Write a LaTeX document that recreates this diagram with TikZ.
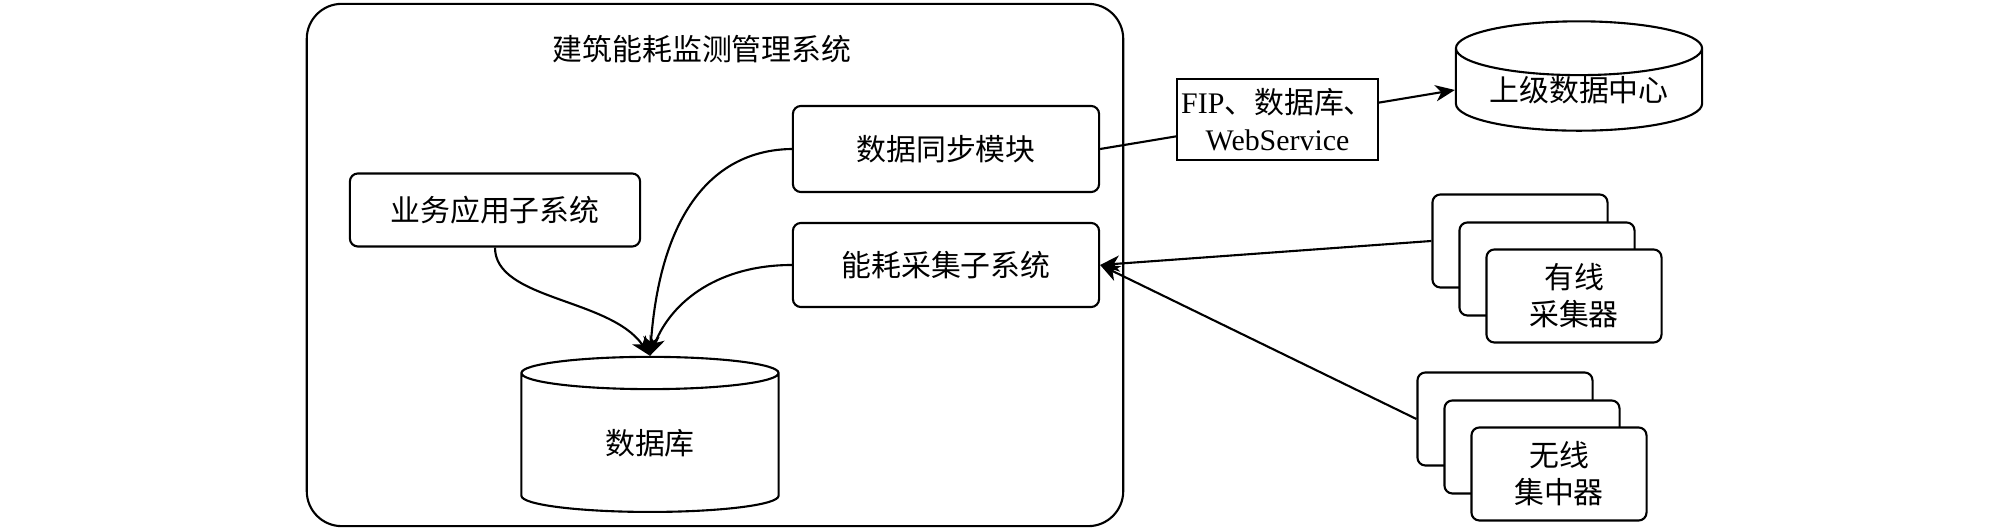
\documentclass[tikz,border=0pt]{standalone}
\usepackage{fontspec}
\setmainfont{Liberation Serif}
\newfontfamily\cjk{Noto Sans CJK SC}
\usetikzlibrary{shapes.geometric,arrows.meta}

\begin{document}
\begin{tikzpicture}[x=0.01cm,y=0.01cm,line width=0.6pt,>={Stealth[length=5.5pt,width=4.6pt,inset=1.6pt]}]
\tikzset{every node/.style={font=\fontsize{8.5}{10.5}\selectfont\cjk}}
\tikzset{box/.style={draw,rounded corners=0.08cm,minimum width=3.06cm,minimum height=0.86cm}}
\tikzset{stack/.style={draw,fill=white,rounded corners=0.08cm,minimum width=1.75cm,minimum height=0.93cm,align=center}}
\tikzset{store/.style={draw,cylinder,shape border rotate=90,inner sep=0pt}}
\useasboundingbox (0,0) rectangle (2008,-531);

% System frame and its title
\node[draw,rounded corners=0.35cm,minimum width=8.16cm,minimum height=5.22cm] (sys) at (715,-265) {};
\node (title) at (702,-49) {建筑能耗监测管理系统};

% Modules inside the system
\node[box] (sync) at (946,-149) {数据同步模块};
\node[box,minimum width=2.9cm,minimum height=0.73cm] (biz) at (495,-210) {业务应用子系统};
\node[box,minimum height=0.84cm] (collect) at (946,-265) {能耗采集子系统};
\node[store,aspect=0.36,minimum width=2.57cm,minimum height=1.55cm] (db) at (650,-443) {数据库};

% Upper data centre
\node[store,aspect=0.3,minimum width=2.46cm,minimum height=1.04cm] (center) at (1579,-90) {上级数据中心};

% Wired collectors (stack of three)
\node[stack] (wired1) at (1520,-241) {};
\node[stack] (wired2) at (1547,-269) {};
\node[stack] (wired) at (1574,-296) {有线\\采集器};

% Wireless concentrators (stack of three)
\node[stack] (wireless1) at (1505,-419) {};
\node[stack] (wireless2) at (1532,-447) {};
\node[stack] (wireless) at (1559,-474) {无线\\集中器};

% Edges into the database
\draw[->] (biz.south) .. controls (495,-300) and (610,-298) .. (db.north);
\draw[->] (sync.west) .. controls (712,-150) and (660,-215) .. (db.north);
\draw[->] (collect.west) .. controls (720,-265) and (672,-300) .. (db.north);

% Upload to the data centre
\draw[->] (sync.east) -- node[draw,fill=white,align=center,inner sep=0pt,minimum width=2.01cm,minimum height=0.81cm] (fip) {{\rmfamily FIP}、数据库、\\{\rmfamily WebService}} (center.west);

% Collectors to the collection subsystem
\draw[->] (wired1.west) -- (collect.east);
\draw[->] (wireless1.west) -- (collect.east);

\end{tikzpicture}
\end{document}
